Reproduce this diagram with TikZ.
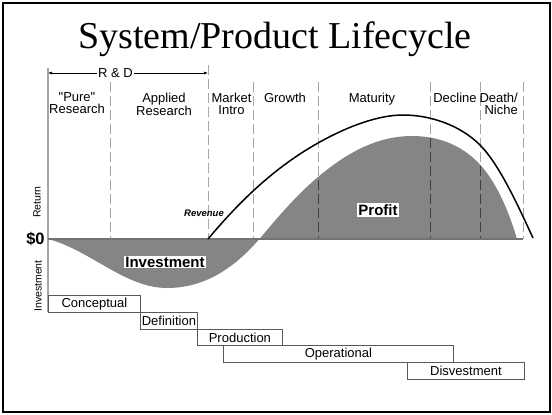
\documentclass[tikz,border=0pt]{standalone}
\usepackage{fontspec}
\setmainfont{Liberation Serif}
\newfontfamily\arial{Liberation Sans}
\usetikzlibrary{arrows.meta}
\begin{document}
\begin{tikzpicture}[x=1pt,y=-1pt,
  phasebox/.style={draw=black!65, line width=0.8pt, fill=white, font=\arial\fontsize{13}{14}\selectfont, inner sep=0pt, anchor=north west},
  stagelbl/.style={font=\arial\fontsize{13}{12}\selectfont, align=center, inner sep=0pt, anchor=north},
  phasedash/.style={dash pattern=on 10pt off 4pt, line width=1pt},
  arealbl/.style={fill=white, inner sep=1.2pt, font=\arial\bfseries\fontsize{15}{16}\selectfont},
  axislbl/.style={font=\arial\fontsize{10.5}{11}\selectfont, rotate=90, inner sep=0pt},
  rdtip/.style={-{Latex[length=4pt,width=3pt]}}
]
\useasboundingbox (0,0) rectangle (552,415);
% frame
\draw[line width=2pt] (3,3) rectangle (550,412);
% title
\node[font=\fontsize{38}{40}\selectfont, anchor=base] (title) at (275,48) {System/Product Lifecycle};
% light dashed phase lines
\foreach \xx in {110,253,318,430,480,523} {
  \draw[phasedash, draw=black!35] (\xx,82) -- (\xx,239);
}
\draw[phasedash, draw=black!35] (208,65) -- (208,239);
% vertical axis
\draw[draw=black!35, line width=1.5pt] (48,68) -- (48,312);
% cash flow area
\fill[black!48] (48,239) .. controls (90,250) and (125,288) .. (167,288)
  .. controls (210,288) and (240,262) .. (262,236)
  .. controls (282,212) and (300,192) .. (318,177)
  .. controls (350,150) and (380,136) .. (412,136)
  .. controls (445,136) and (470,150) .. (487,173)
  .. controls (500,191) and (510,215) .. (517,239) -- cycle;
\begin{scope}
\clip (48,239) .. controls (90,250) and (125,288) .. (167,288)
  .. controls (210,288) and (240,262) .. (262,236)
  .. controls (282,212) and (300,192) .. (318,177)
  .. controls (350,150) and (380,136) .. (412,136)
  .. controls (445,136) and (470,150) .. (487,173)
  .. controls (500,191) and (510,215) .. (517,239) -- cycle;
\foreach \xx in {110,208,253,318,430,480,523} {
  \draw[phasedash, draw=black!75] (\xx,82) -- (\xx,239);
}
\end{scope}
% zero line
\draw[draw=black!55, line width=1.2pt] (48,239) -- (523,239);
% revenue curve
\draw[line width=1.5pt] (208,239) .. controls (235,207) and (270,170) .. (318,143)
  .. controls (350,125) and (380,115) .. (403,115)
  .. controls (430,115) and (460,125) .. (480,145)
  .. controls (500,165) and (520,210) .. (533,238);
% R & D
\coordinate (rdL) at (48,73);
\coordinate (rdR) at (208,73);
\node[fill=white, inner sep=1pt, font=\arial\fontsize{13}{14}\selectfont] (rd) at (115.5,73) {R \& D};
\draw[rdtip, line width=0.6pt] (rd.west) -- (rdL);
\draw[rdtip, line width=0.6pt] (rd.east) -- (rdR);
% stage labels
\node[stagelbl] (pure) at (77,92.5) {"Pure"\\Research};
\node[stagelbl] (applied) at (164,92.5) {Applied\\Research};
\node[stagelbl] (intro) at (231.5,92.5) {Market\\Intro};
\node[stagelbl] (growth) at (285,92.5) {Growth};
\node[stagelbl] (maturity) at (372,92.5) {Maturity};
\node[stagelbl] (decline) at (455,92.5) {Decline};
\node[stagelbl, align=right, anchor=north east] (death) at (518,92.5) {Death/\\Niche};
% axis labels
\node[axislbl] (ret) at (37,202) {Return};
\node[axislbl] (inv) at (38,286) {Investment};
\node[font=\arial\bfseries\fontsize{16.5}{17}\selectfont, inner sep=0pt] (zero) at (35.5,238.5) {\$0};
% area labels
\node[arealbl] (investment) at (165,262) {Investment};
\node[arealbl] (profit) at (378,210) {Profit};
\node[font=\arial\bfseries\itshape\fontsize{9.5}{10}\selectfont, inner sep=0pt] (revenue) at (204,213) {Revenue};
% phase boxes
\node[phasebox, minimum width=92pt, minimum height=17pt] (concept) at (48,295) {Conceptual};
\node[phasebox, minimum width=57pt, minimum height=17pt] (defn) at (140,312) {Definition};
\node[phasebox, minimum width=85pt, minimum height=16pt] (prod) at (197,329) {Production};
\node[phasebox, minimum width=230pt, minimum height=17pt] (oper) at (223,345) {Operational};
\node[phasebox, minimum width=117pt, minimum height=17pt] (disv) at (407,362) {Disvestment};
\end{tikzpicture}
\end{document}
